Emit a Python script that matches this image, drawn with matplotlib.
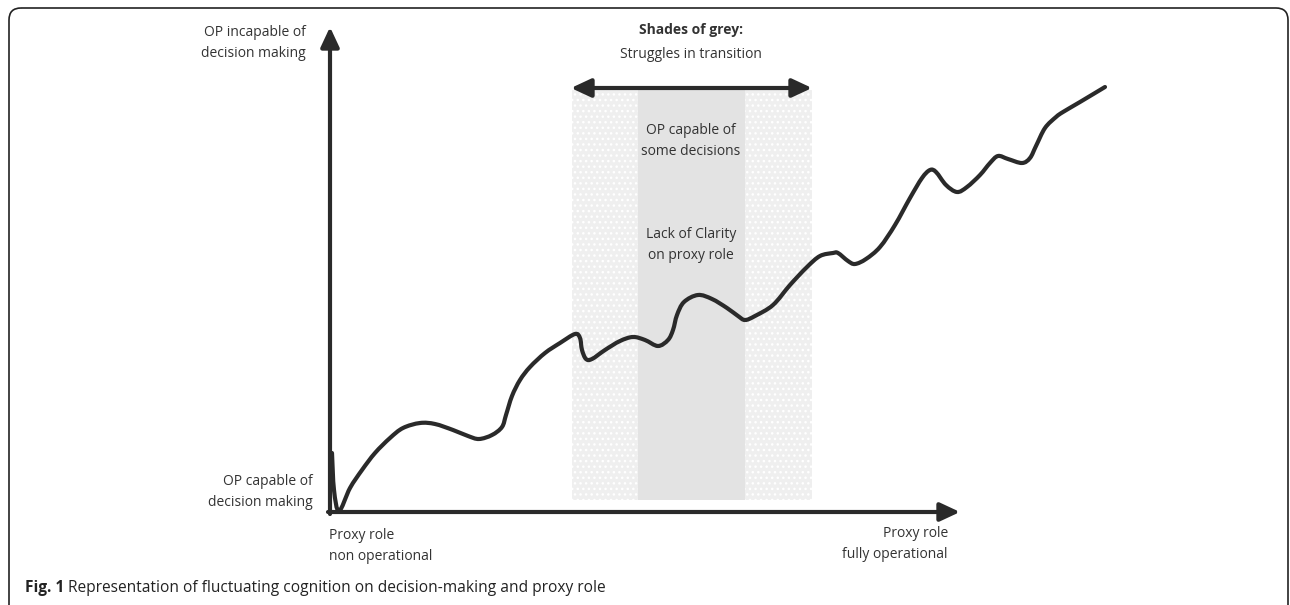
import numpy as np
import matplotlib.pyplot as plt
from matplotlib.patches import FancyBboxPatch, Rectangle, PathPatch
from matplotlib.path import Path

plt.rcParams['font.family'] = ['Open Sans', 'DejaVu Sans']

# curve (pixel-like units, y grows downward)
curve_x = [332, 334, 339, 350, 362, 375, 390, 403, 420, 435, 453, 468, 479, 492, 502, 506,
           512, 520, 530, 545, 560, 575, 580, 582, 586, 592, 605, 620, 633, 645, 658, 668,
           673, 677, 684, 698, 712, 727, 738, 745, 755, 773, 790, 807, 820, 833, 838, 848,
           855, 866, 880, 895, 910, 922, 930, 936, 946, 957, 967, 980, 990, 998, 1008, 1022,
           1030, 1036, 1045, 1056, 1063, 1080, 1105]
curve_y = [453, 490, 511, 488, 470, 453, 438, 428, 423, 424, 430, 436, 439, 435, 427, 415,
           396, 380, 367, 353, 343, 334, 338, 350, 359, 359, 350, 341, 337, 340, 346, 340,
           330, 315, 302, 295, 299, 308, 316, 320, 316, 305, 285, 267, 256, 253, 253, 261,
           264, 259, 247, 225, 198, 178, 170, 172, 185, 192, 187, 175, 163, 156, 159, 163,
           158, 146, 128, 117, 112, 102, 87]

# zones: light outer band and darker centre
outer_zone = (572, 812)
inner_zone = (638, 745)
zone_top, zone_bottom = 90, 500

origin = (330, 512)
y_axis_top = 27
x_axis_end = 960

ink = '#2a2a2a'
txt = '#333333'


def smooth_path(xs, ys, tension=1 / 6):
    # Catmull-Rom through the read points, as cubic bezier segments
    p = np.column_stack([xs, ys]).astype(float)
    verts = [p[0]]
    codes = [Path.MOVETO]
    for i in range(len(p) - 1):
        p0 = p[i - 1] if i > 0 else p[i]
        p3 = p[i + 2] if i + 2 < len(p) else p[i + 1]
        c1 = p[i] + (p[i + 1] - p0) * tension
        c2 = p[i + 1] - (p3 - p[i]) * tension
        verts += [c1, c2, p[i + 1]]
        codes += [Path.CURVE4] * 3
    return Path(verts, codes)


fig = plt.figure(figsize=(12.9, 6.05), dpi=100)
ax = fig.add_axes([0, 0, 1, 1])
ax.set_xlim(0, 1290)
ax.set_ylim(605, 0)
ax.axis('off')

# outer frame
frame = FancyBboxPatch((9, 8), 1279, 620, boxstyle='round,pad=0,rounding_size=12',
                       fc='none', ec='#222222', lw=1.2)
ax.add_patch(frame)

# shaded zones
ax.add_patch(Rectangle((outer_zone[0], zone_top), outer_zone[1] - outer_zone[0],
                       zone_bottom - zone_top, fc='#efefef', ec='white', lw=0, hatch='...'))
ax.add_patch(Rectangle((inner_zone[0], zone_top), inner_zone[1] - inner_zone[0],
                       zone_bottom - zone_top, fc='#e3e3e3', ec='none', lw=0))

head = '-|>,head_length=0.6,head_width=0.28'
ax.annotate('', xy=(origin[0], y_axis_top), xytext=(origin[0], origin[1] + 2),
            arrowprops=dict(arrowstyle=head, lw=3, color=ink, mutation_scale=20,
                            shrinkA=0, shrinkB=0))
ax.annotate('', xy=(x_axis_end, origin[1]), xytext=(origin[0] - 2, origin[1]),
            arrowprops=dict(arrowstyle=head, lw=3, color=ink, mutation_scale=20,
                            shrinkA=0, shrinkB=0))
# double arrow over grey zone
ax.annotate('', xy=(outer_zone[1], 88), xytext=(outer_zone[0] - 1, 88),
            arrowprops=dict(arrowstyle='<|-|>,head_length=0.6,head_width=0.28', lw=3,
                            color=ink, mutation_scale=20, shrinkA=0, shrinkB=0))

# the curve
ax.add_patch(PathPatch(smooth_path(curve_x, curve_y), fc='none', ec=ink, lw=3,
                       joinstyle='round', capstyle='round'))

fs = 10
ls = 1.6
ax.text(691, 30, 'Shades of grey:', ha='center', va='center', fontsize=fs,
        fontweight='bold', color=txt)
ax.text(691, 55, 'Struggles in transition', ha='center', va='center', fontsize=fs, color=txt)
ax.text(691, 141, 'OP capable of\nsome decisions', ha='center', va='center', fontsize=fs,
        color=txt, linespacing=ls)
ax.text(691, 245, 'Lack of Clarity\non proxy role', ha='center', va='center', fontsize=fs,
        color=txt, linespacing=ls)
ax.text(306, 43, 'OP incapable of\ndecision making', ha='right', va='center', fontsize=fs,
        color=txt, linespacing=ls)
ax.text(313, 492, 'OP capable of\ndecision making', ha='right', va='center', fontsize=fs,
        color=txt, linespacing=ls)
ax.text(329, 546, 'Proxy role\nnon operational', ha='left', va='center', fontsize=fs,
        color=txt, linespacing=ls)
ax.text(948, 544, 'Proxy role\nfully operational', ha='right', va='center', fontsize=fs,
        color=txt, linespacing=ls)

cap = ax.text(25, 588, 'Fig. 1', ha='left', va='center', fontsize=11.2, fontweight='bold',
              color='#222222')
ax.annotate(' Representation of fluctuating cognition on decision-making and proxy role',
            xycoords=cap, xy=(1, 0.5), va='center', ha='left', fontsize=11.2, color='#222222')

fig.savefig('out.png', dpi=100)
